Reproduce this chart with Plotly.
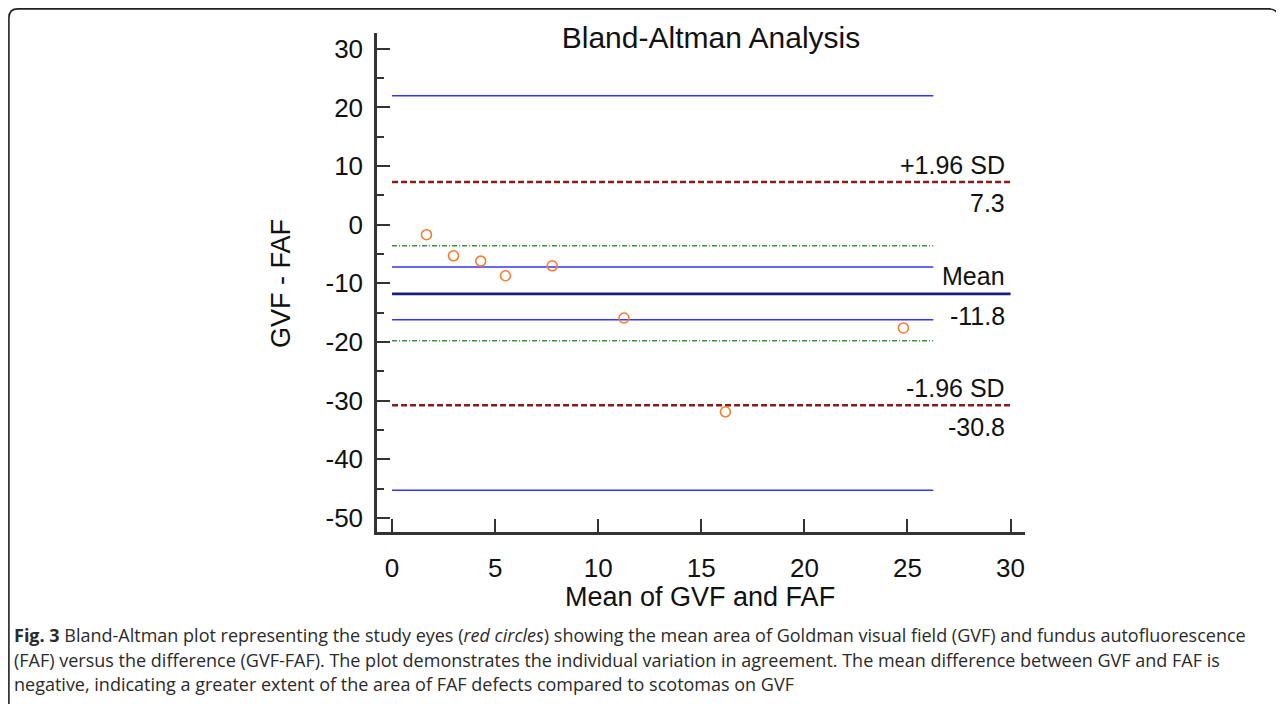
import plotly.graph_objects as go

# ---- data ----
mean_vals = [1.67, 2.98, 4.30, 5.50, 7.77, 11.25, 16.17, 24.8]
diff_vals = [-1.7, -5.3, -6.2, -8.7, -7.0, -15.9, -31.9, -17.6]

mean_diff = -11.8
upper_sd = 7.3
lower_sd = -30.8
mean_ci = [-7.2, -16.2]          # blue lines around the mean
green_lines = [-3.6, -19.8]      # green dash-dot lines
outer_blue = [22.0, -45.3]       # outer blue lines
short_x = [0, 26.25]             # extent of the shorter lines
long_x = [0, 30]                 # extent of mean / SD lines

x_ticks = [0, 5, 10, 15, 20, 25, 30]
y_ticks = [-50, -40, -30, -20, -10, 0, 10, 20, 30]
y_ticktext = ["-50", "-40", "-30", "-20", "-10", "0", "10", "20", "30"]

# page body has an 8px margin: work in screen pixels, convert to figure pixels
OFF = 8
W, H = 1284 - OFF, 704 - OFF
L, R, T, B = 377 - OFF, 1025 - OFF, 33 - OFF, 532 - OFF


def px(xs):
    return (xs - OFF - L) / (R - L)


def py(ys):
    return (B - (ys - OFF)) / (B - T)


fig = go.Figure()

blue = "#3434ff"
for yv in outer_blue + mean_ci:
    fig.add_trace(go.Scatter(x=short_x, y=[yv, yv], mode="lines",
                             line=dict(color=blue, width=1.5),
                             hoverinfo="skip", showlegend=False))
for yv in green_lines:
    fig.add_trace(go.Scatter(x=short_x, y=[yv, yv], mode="lines",
                             line=dict(color="#3f8f3f", width=1.5,
                                       dash="5px,2px,1px,2px"),
                             hoverinfo="skip", showlegend=False))
fig.add_trace(go.Scatter(x=long_x, y=[mean_diff, mean_diff], mode="lines",
                         line=dict(color="#1c1c80", width=2.8),
                         hoverinfo="skip", showlegend=False))
for yv in [upper_sd, lower_sd]:
    fig.add_trace(go.Scatter(x=long_x, y=[yv, yv], mode="lines",
                             line=dict(color="#8b1a1a", width=2.5,
                                       dash="6px,3px"),
                             hoverinfo="skip", showlegend=False))

fig.add_trace(go.Scatter(x=mean_vals, y=diff_vals, mode="markers",
                         marker=dict(symbol="circle-open", size=10,
                                     color="#fb7a2c", line=dict(width=1.6)),
                         showlegend=False))

axis_font = dict(family="Liberation Sans, Arial", size=26, color="#111")

fig.update_xaxes(range=[-0.73, 30.7], tickvals=x_ticks,
                 showgrid=False, zeroline=False,
                 showline=True, linecolor="#333", linewidth=2.5,
                 ticks="inside", ticklen=13, tickwidth=2, tickcolor="#333",
                 tickfont=axis_font, ticklabelstandoff=11)
fig.update_yaxes(range=[-52.4, 32.7], tickvals=y_ticks, ticktext=y_ticktext,
                 showgrid=False, zeroline=False,
                 showline=True, linecolor="#333", linewidth=2.5,
                 ticks="inside", ticklen=13, tickwidth=2, tickcolor="#333",
                 minor=dict(ticks="inside", ticklen=7, tickwidth=2,
                            tickcolor="#333", dtick=10, tick0=5),
                 tickfont=axis_font, ticklabelstandoff=6)

ann_font = dict(family="Liberation Sans, Arial", size=25, color="#111")
labels = [
    ("+1.96 SD", upper_sd, "bottom", 1),
    (f"{upper_sd:.1f}", upper_sd, "top", -5),
    ("Mean", mean_diff, "bottom", 2),
    (f"{mean_diff:.1f}", mean_diff, "top", -6),
    ("-1.96 SD", lower_sd, "bottom", 1),
    (f"{lower_sd:.1f}", lower_sd, "top", -6),
]
for txt, yv, anc, sh in labels:
    fig.add_annotation(x=30, y=yv, xref="x", yref="y", text=txt,
                       showarrow=False, xanchor="right", yanchor=anc,
                       xshift=-4, yshift=sh, font=ann_font)

# axis titles
fig.add_annotation(x=px(700), y=py(597), xref="paper", yref="paper",
                   text="Mean of GVF and FAF", showarrow=False,
                   xanchor="center", yanchor="middle",
                   font=dict(family="Liberation Sans, Arial", size=27, color="#111"))
fig.add_annotation(x=px(281), y=py(284), xref="paper", yref="paper",
                   text="GVF - FAF", showarrow=False, textangle=-90,
                   xanchor="center", yanchor="middle",
                   font=dict(family="Liberation Sans, Arial", size=27, color="#111"))

# caption
cap_font = dict(family="Open Sans", size=18, color="#2a2a2a")
cap_lines = [
    "<b>Fig. 3</b> Bland-Altman plot representing the study eyes (<i>red circles</i>) showing the mean area of Goldman visual field (GVF) and fundus autofluorescence",
    "(FAF) versus the difference (GVF-FAF). The plot demonstrates the individual variation in agreement. The mean difference between GVF and FAF is",
    "negative, indicating a greater extent of the area of FAF defects compared to scotomas on GVF",
]
for i, line in enumerate(cap_lines):
    fig.add_annotation(x=px(12), y=py(635 + 24.5 * i), xref="paper", yref="paper",
                       text=line, showarrow=False, xanchor="left",
                       yanchor="middle", font=cap_font)

# rounded border (kept just inside the figure's own canvas)
x0, x1, y0 = px(8.9), px(1278), py(8.9)
rx, ry = 9 / (R - L), 9 / (B - T)
path = (f"M {x0},{py(704)} L {x0},{y0 - ry} Q {x0},{y0} {x0 + rx},{y0} "
        f"L {x1 - rx},{y0} Q {x1},{y0} {x1},{y0 - ry} L {x1},{py(640)}")
fig.add_shape(type="path", path=path, xref="paper", yref="paper",
              line=dict(color="#222", width=1.6))

fig.update_layout(
    width=W, height=H,
    margin=dict(l=L, r=W - R, t=T, b=H - B),
    plot_bgcolor="white", paper_bgcolor="white",
    title=dict(text="Bland-Altman Analysis", x=px(711), xref="paper",
               y=1 - (37 - OFF) / H, yref="container", xanchor="center",
               yanchor="middle",
               font=dict(family="Liberation Sans, Arial", size=30, color="#111")),
)

fig.write_html("out.html")
